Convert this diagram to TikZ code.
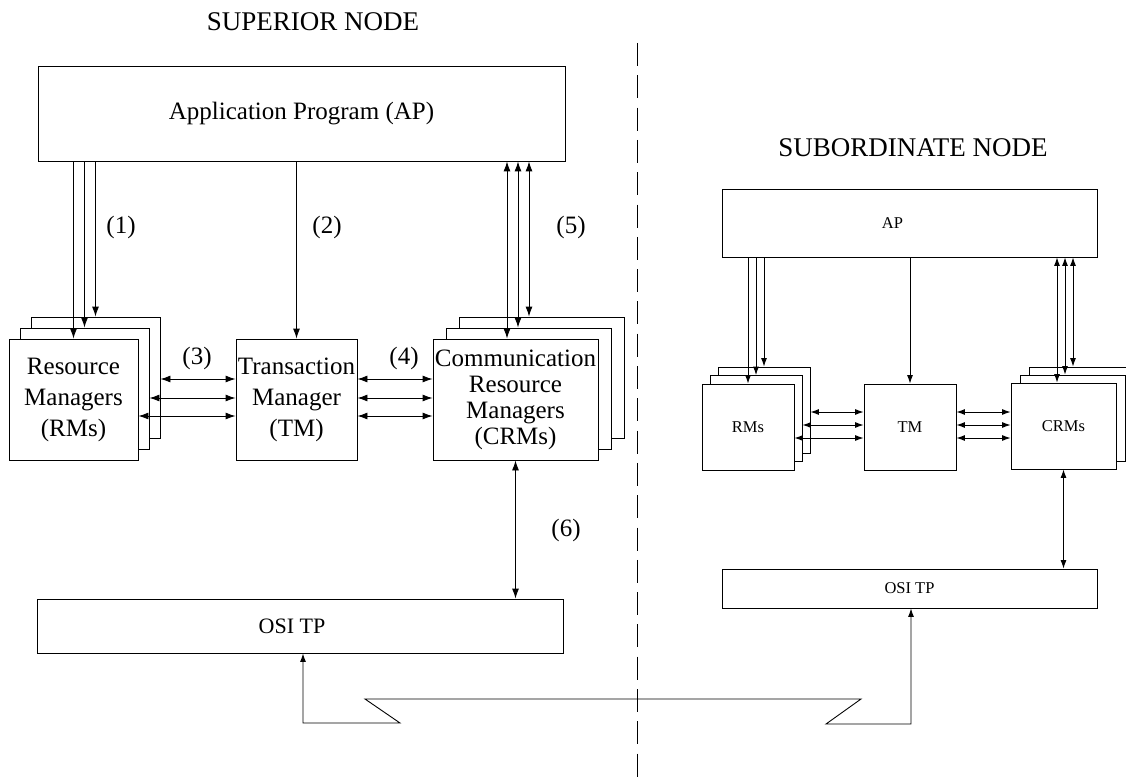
\documentclass[tikz,border=0pt]{standalone}
\usepackage{fontspec}
\setmainfont{Liberation Serif}
\usetikzlibrary{arrows.meta}

\begin{document}
\begin{tikzpicture}[x=1pt, y=-1pt,
  box/.style={draw=black, fill=white, line width=0.9pt, inner sep=0pt, align=center},
  bigtxt/.style={font=\fontsize{25}{31}\selectfont},
  smalltxt/.style={font=\fontsize{16.5}{19}\selectfont},
  headtxt/.style={font=\fontsize{27}{31}\selectfont},
  stackL/.style={box, minimum width=129pt, minimum height=121pt},
  stackC/.style={box, minimum width=165pt, minimum height=121pt},
  stackR/.style={box, minimum width=92pt, minimum height=86pt},
  stackRC/.style={box, minimum width=105pt, minimum height=86pt},
  arr/.style={line width=0.9pt, -{Latex[length=10pt,width=7pt]}},
  darr/.style={line width=0.9pt, {Latex[length=10pt,width=7pt]}-{Latex[length=10pt,width=7pt]}},
  sarr/.style={line width=0.9pt, -{Latex[length=8.5pt,width=6pt]}},
  sdarr/.style={line width=0.9pt, {Latex[length=8.5pt,width=6pt]}-{Latex[length=8.5pt,width=6pt]}}]
\useasboundingbox (0,0) rectangle (1126,778);

\draw[line width=0.9pt, dash pattern=on 23pt off 9.3pt] (637,43) -- (637,778);

\node[headtxt] (supT) at (313,22) {SUPERIOR NODE};
\node[headtxt] (subT) at (913,148) {SUBORDINATE NODE};

% superior node
\node[box, bigtxt, minimum width=527pt, minimum height=95pt] (apL) at (301.5,113.5) {Application Program (AP)};
\node[stackL] (rmL3) at (95.5,377.5) {};
\node[stackL] (rmL2) at (84.5,388.5) {};
\node[stackL, bigtxt] (rmL1) at (73.5,399.5) {Resource\\Managers\\(RMs)};
\node[box, bigtxt, minimum width=121pt, minimum height=121pt] (tmL) at (296.5,399.5) {Transaction\\Manager\\(TM)};
\node[stackC] (crmL3) at (541.5,377.5) {};
\node[stackC] (crmL2) at (528.5,388.5) {};
\node[stackC, font=\fontsize{25}{26}\selectfont] (crmL1) at (515.5,399.5) {Communication\\Resource\\Managers\\(CRMs)};
\node[box, minimum width=526pt, minimum height=54pt, label={[font=\fontsize{22}{25}\selectfont, xshift=-8pt]center:OSI TP}] (osiL) at (300,626) {};

\node[bigtxt] (n1) at (121,227) {(1)};
\node[bigtxt] (n2) at (327,227) {(2)};
\node[bigtxt] (n3) at (197,358) {(3)};
\node[bigtxt] (n4) at (404,358) {(4)};
\node[bigtxt] (n5) at (571,227) {(5)};
\node[bigtxt] (n6) at (566,530) {(6)};

\draw[arr] (apL.south -| rmL1.north) -- (rmL1.north);
\draw[arr] (apL.south -| rmL2.north) -- (rmL2.north);
\draw[arr] (apL.south -| rmL3.north) -- (rmL3.north);
\draw[arr] (apL.south -| tmL.north) -- (tmL.north);
\draw[darr] ([xshift=-8.5pt]crmL1.north) -- ([xshift=-8.5pt]crmL1.north |- apL.south);
\draw[darr] ([xshift=-10.5pt]crmL2.north) -- ([xshift=-10.5pt]crmL2.north |- apL.south);
\draw[darr] ([xshift=-12.5pt]crmL3.north) -- ([xshift=-12.5pt]crmL3.north |- apL.south);

\draw[darr] ([yshift=20.5pt]tmL.west -| rmL3.east) -- ([yshift=20.5pt]tmL.west);
\draw[darr] ([yshift=1.5pt]tmL.west -| rmL2.east) -- ([yshift=1.5pt]tmL.west);
\draw[darr] ([yshift=-16.5pt]tmL.west -| rmL1.east) -- ([yshift=-16.5pt]tmL.west);
\draw[darr] ([yshift=20.5pt]tmL.east) -- ([yshift=20.5pt]tmL.east -| crmL1.west);
\draw[darr] ([yshift=1.5pt]tmL.east) -- ([yshift=1.5pt]tmL.east -| crmL1.west);
\draw[darr] ([yshift=-16.5pt]tmL.east) -- ([yshift=-16.5pt]tmL.east -| crmL1.west);

\draw[darr] (crmL1.south) -- (crmL1.south |- osiL.north);

% subordinate node
\node[box, minimum width=375pt, minimum height=68pt, label={[smalltxt, xshift=-17pt]center:AP}] (apR) at (909.5,223) {};
\node[stackR] (rmR3) at (764,410) {};
\node[stackR] (rmR2) at (756,418.5) {};
\node[stackR, smalltxt] (rmR1) at (748,427) {RMs};
\node[stackR, smalltxt] (tmR) at (910,427) {TM};
\node[stackRC] (crmR3) at (1081.5,410) {};
\node[stackRC] (crmR2) at (1072.5,418) {};
\node[stackRC, smalltxt] (crmR1) at (1063.5,426) {CRMs};
\node[box, smalltxt, minimum width=375pt, minimum height=39pt] (osiR) at (909.5,588.5) {OSI TP};

\draw[sarr] (apR.south -| rmR1.north) -- (rmR1.north);
\draw[sarr] (apR.south -| rmR2.north) -- (rmR2.north);
\draw[sarr] (apR.south -| rmR3.north) -- (rmR3.north);
\draw[sarr] (apR.south -| tmR.north) -- (tmR.north);
\draw[sdarr] ([xshift=-6.5pt]crmR1.north) -- ([xshift=-6.5pt]crmR1.north |- apR.south);
\draw[sdarr] ([xshift=-7.5pt]crmR2.north) -- ([xshift=-7.5pt]crmR2.north |- apR.south);
\draw[sdarr] ([xshift=-8.5pt]crmR3.north) -- ([xshift=-8.5pt]crmR3.north |- apR.south);

\draw[sdarr] ([yshift=15pt]tmR.west -| rmR3.east) -- ([yshift=15pt]tmR.west);
\draw[sdarr] ([yshift=2pt]tmR.west -| rmR2.east) -- ([yshift=2pt]tmR.west);
\draw[sdarr] ([yshift=-11pt]tmR.west -| rmR1.east) -- ([yshift=-11pt]tmR.west);
\draw[sdarr] ([yshift=15pt]tmR.east) -- ([yshift=15pt]tmR.east -| crmR1.west);
\draw[sdarr] ([yshift=2pt]tmR.east) -- ([yshift=2pt]tmR.east -| crmR1.west);
\draw[sdarr] ([yshift=-11pt]tmR.east) -- ([yshift=-11pt]tmR.east -| crmR1.west);

\draw[sdarr] (crmR1.south) -- (crmR1.south |- osiR.north);

% link between the two OSI TP boxes
\draw[sdarr] ([xshift=3pt]osiL.south) |- (400,723) -- (365,699) -- (861,699) -- (826,724) -| ([xshift=1.5pt]osiR.south);
\end{tikzpicture}
\end{document}
